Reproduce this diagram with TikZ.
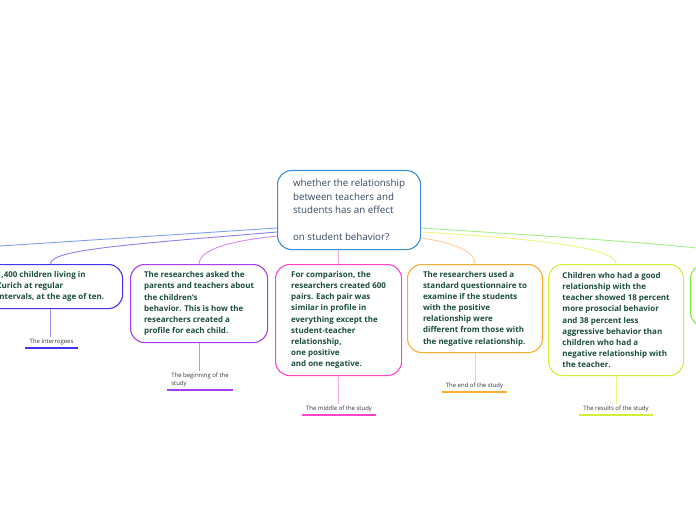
\documentclass[tikz,border=0pt]{standalone}
\usepackage{fontspec}
\setmainfont{Open Sans}
\usetikzlibrary{calc}
\definecolor{cC}{HTML}{3A8FD4}
\definecolor{cL0}{HTML}{7F9FF5}
\definecolor{cB1}{HTML}{4433EE}
\definecolor{cL1}{HTML}{8F7FF0}
\definecolor{cS1}{HTML}{9A8CF2}
\definecolor{cB2}{HTML}{A73CF0}
\definecolor{cL2}{HTML}{D08CF5}
\definecolor{cB3}{HTML}{FF44CC}
\definecolor{cL3}{HTML}{F7A6E6}
\definecolor{cB4}{HTML}{FFAA33}
\definecolor{cL4}{HTML}{FFCC99}
\definecolor{cB5}{HTML}{D2EE3A}
\definecolor{cL5}{HTML}{EEF47C}
\definecolor{cB6}{HTML}{7AEE44}
\definecolor{cL6}{HTML}{A4EE8A}
\definecolor{nodetext}{HTML}{1B4D3E}
\definecolor{centertext}{HTML}{34495E}
\definecolor{lbltext}{HTML}{333333}
\begin{document}
\begin{tikzpicture}[x=1bp,y=-1bp,
  box/.style={draw, rounded corners=14bp, line width=1.1bp, anchor=north west,
    inner xsep=0pt, inner ysep=0pt, align=left,
    font=\fontsize{8}{11.2}\selectfont\bfseries, text=nodetext},
  centerbox/.style={box, font=\fontsize{9.8}{13.5}\selectfont, text=centertext, draw=cC},
  lbl/.style={anchor=south, inner xsep=4bp, inner ysep=2.5bp, align=left,
    font=\fontsize{6}{8}\selectfont, text=lbltext},
  conn/.style={line width=0.9bp},
  uline/.style={line width=1.6bp}]
\useasboundingbox (0,0) rectangle (696,520);
\clip (0,0) rectangle (696,520);

% central topic
\node[centerbox, minimum width=143bp, minimum height=79bp] (c) at (277,170)
  {whether the relationship\\between teachers and\\students has an effect\\\mbox{}\\on student behavior?};

% branch boxes
\node[box, draw=cB1, minimum width=144bp, minimum height=44bp] (n1) at (-22,264)
  {1,400 children living in\\Zurich at regular\\intervals, at the age of ten.};
\node[box, draw=cB2, minimum width=137bp, minimum height=78bp] (n2) at (130,264)
  {The researches asked the\\parents and teachers about\\the children’s\\behavior. This is how the\\researchers created a\\profile for each child.};
\node[box, draw=cB3, minimum width=126bp, minimum height=111bp] (n3) at (275,264)
  {For comparison, the\\researchers created 600\\pairs. Each pair was\\similar in profile in\\everything except the\\student-teacher\\relationship,\\one positive\\and one negative.};
\node[box, draw=cB4, minimum width=135bp, minimum height=88bp] (n4) at (407,264)
  {The researchers used a\\standard questionnaire to\\examine if the students\\with the positive\\relationship were\\different from those with\\the negative relationship.};
\node[box, draw=cB5, minimum width=135bp, minimum height=111bp] (n5) at (548,264)
  {Children who had a good\\relationship with the\\teacher showed 18 percent\\more prosocial behavior\\and 38 percent less\\aggressive behavior than\\children who had a\\negative relationship with\\the teacher.};
\node[box, draw=cB6, minimum width=140bp, minimum height=62bp] (n6) at (690,264) {};
\coordinate (n0) at (-100,252.5);

% connectors from the central topic
\draw[conn, draw=cL0] ($(c.north west)+(0,58)$) -- (n0);
\draw[conn, draw=cL1] ($(c.north west)+(0,62)$) .. controls +(-157,13) and +(0,-14) .. (n1.north);
\draw[conn, draw=cL2] ($(c.north west)+(0,66)$) .. controls +(-57,6) and +(0,-12) .. (n2.north);
\draw[conn, draw=cL3] (n3.north |- c.south) -- (n3.north);
\draw[conn, draw=cL4] ($(c.north east)+(0,68)$) .. controls +(35,5) and +(0,-12) .. (n4.north);
\draw[conn, draw=cL5] ($(c.north east)+(0,62)$) .. controls +(140,8) and +(0,-14) .. (n5.north);
\draw[conn, draw=cL6] ($(c.north east)+(0,58)$) .. controls +(250,16) and +(0,-14) .. (n6.north);

% labels
\node[lbl] (l1) at (51.5,348) {The interrogees};
\node[lbl] (l2) at (200,390) {The beginning of the\\study};
\node[lbl] (l3) at (339,415) {The middle of the study};
\node[lbl] (l4) at (474.5,392) {The end of the study};
\node[lbl] (l5) at (616,415) {The results of the study};

\draw[uline, draw=cB1] (l1.south west) -- (l1.south east);
\draw[uline, draw=cB2] (l2.south west) -- (l2.south east);
\draw[uline, draw=cB3] (l3.south west) -- (l3.south east);
\draw[uline, draw=cB4] (l4.south west) -- (l4.south east);
\draw[uline, draw=cB5] (l5.south west) -- (l5.south east);

\draw[conn, draw=cS1] (n1.south) -- (l1.north -| n1.south);
\draw[conn, draw=cL2] (n2.south) -- (l2.north -| n2.south);
\draw[conn, draw=cL3] (n3.south) -- (l3.north -| n3.south);
\draw[conn, draw=cL4] (n4.south) -- (l4.north -| n4.south);
\draw[conn, draw=cL5] (n5.south) -- (l5.north -| n5.south);
\end{tikzpicture}
\end{document}
